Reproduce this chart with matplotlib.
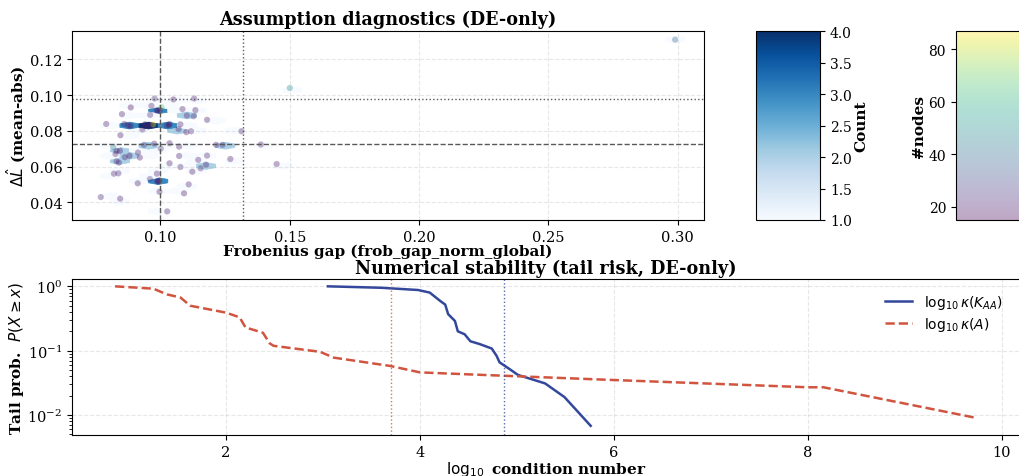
import numpy as np
import matplotlib
matplotlib.use("Agg")
import matplotlib.pyplot as plt

plt.rcParams["font.family"] = "DejaVu Serif"
plt.rcParams["font.size"] = 10

# --- top panel: per-run diagnostics (DE-only) ---
frob_gap = [0.0977, 0.105, 0.113, 0.0885, 0.0965, 0.1085, 0.1135, 0.1128, 0.0851, 0.096,
            0.118, 0.079, 0.086, 0.094, 0.0972, 0.1035, 0.1077, 0.093, 0.107, 0.110,
            0.1118, 0.1313, 0.0845, 0.0936, 0.0976, 0.1035, 0.1072, 0.1001, 0.1215, 0.124,
            0.1388, 0.083, 0.0913, 0.0826, 0.0862, 0.092, 0.1072, 0.118, 0.1146, 0.127,
            0.083, 0.0839, 0.1035, 0.1176, 0.1155, 0.1077, 0.1449, 0.1123, 0.082, 0.0837,
            0.0986, 0.0959, 0.0912, 0.1109, 0.0996, 0.1091, 0.0769, 0.0844, 0.1026, 0.150,
            0.299, 0.0817,
            # repeated runs sitting in the dense cells
            0.0985, 0.0998, 0.0991, 0.1004, 0.0950, 0.0958, 0.0876, 0.0884, 0.1024, 0.1032,
            0.0986, 0.0994, 0.0991, 0.0843, 0.1102, 0.0880]
delta_L = [0.0981, 0.0976, 0.0981, 0.0931, 0.094, 0.0922, 0.0916, 0.0882, 0.0894, 0.089,
           0.0862, 0.0839, 0.0839, 0.0837, 0.0837, 0.0839, 0.0837, 0.0808, 0.081, 0.0793,
           0.0798, 0.0798, 0.0776, 0.0722, 0.0729, 0.0731, 0.0712, 0.0701, 0.0722, 0.0722,
           0.0724, 0.0688, 0.0679, 0.0671, 0.0653, 0.0651, 0.066, 0.0662, 0.0638, 0.0643,
           0.063, 0.0623, 0.0619, 0.0611, 0.0591, 0.0598, 0.0615, 0.0572, 0.0561, 0.0563,
           0.0561, 0.0531, 0.0507, 0.0501, 0.046, 0.0451, 0.043, 0.0421, 0.035, 0.104,
           0.131, 0.071,
           0.0915, 0.0918, 0.0912, 0.0933, 0.0830, 0.0832, 0.0830, 0.0828, 0.0830, 0.0832,
           0.0519, 0.0521, 0.0517, 0.0689, 0.0886, 0.0661]
n_nodes = [22, 18, 20, 17, 20, 19, 18, 21, 19, 22,
           18, 20, 19, 22, 87, 20, 19, 18, 20, 17,
           21, 19, 18, 22, 20, 19, 18, 24, 20, 21,
           19, 18, 20, 22, 19, 18, 21, 20, 19, 18,
           22, 20, 19, 18, 21, 20, 19, 18, 20, 22,
           19, 26, 18, 20, 19, 18, 21, 19, 20, 50,
           38, 45,
           20, 22, 18, 68, 19, 21, 20, 18, 22, 19,
           20, 18, 21, 19, 20, 15]
gap_med, gap_q90 = 0.100, 0.132
dl_med, dl_q90 = 0.0727, 0.0978

# --- bottom panel: tail of log10 condition numbers ---
kaa_x = [3.05, 3.6, 3.98, 4.10, 4.21, 4.26, 4.29, 4.36, 4.39, 4.46, 4.52, 4.62, 4.74,
         4.79, 4.82, 4.93, 5.01, 5.29, 5.49, 5.76]
kaa_p = [1.0, 0.95, 0.877, 0.80, 0.59, 0.52, 0.37, 0.29, 0.20, 0.18, 0.14, 0.126, 0.108,
         0.083, 0.066, 0.051, 0.042, 0.031, 0.019, 0.0068]
a_x = [0.856, 1.25, 1.39, 1.53, 1.63, 2.0, 2.14, 2.20, 2.38, 2.45, 2.49, 2.97, 3.11,
       3.69, 4.0, 4.48, 5.01, 6.0, 8.0, 8.16, 9.74]
a_p = [1.0, 0.92, 0.75, 0.67, 0.50, 0.39, 0.33, 0.23, 0.19, 0.13, 0.119, 0.096, 0.078,
       0.058, 0.046, 0.043, 0.040, 0.035, 0.027, 0.027, 0.009]
kaa_q90 = 4.87
a_q90 = 3.70

c_kaa = "#33489a"
c_a = "#d0543e"

fig = plt.figure(figsize=(10.19, 4.77), dpi=100)
ax1 = fig.add_axes([0.0707, 0.5367, 0.620, 0.396])
cax1 = fig.add_axes([0.742, 0.5367, 0.0628, 0.396])
cax2 = fig.add_axes([0.938, 0.5367, 0.0628, 0.396])
ax2 = fig.add_axes([0.0707, 0.086, 0.930, 0.327])

hb = ax1.hexbin(frob_gap, delta_L, gridsize=30, cmap="Blues", mincnt=1,
                vmin=1, vmax=4, linewidths=0.6, edgecolors="face")
sc = ax1.scatter(frob_gap, delta_L, c=n_nodes, cmap="viridis", s=20, alpha=0.35,
                 edgecolors="none")
ax1.axvline(gap_med, color="0.35", ls="--", lw=1)
ax1.axvline(gap_q90, color="0.35", ls=":", lw=1)
ax1.axhline(dl_med, color="0.35", ls="--", lw=1)
ax1.axhline(dl_q90, color="0.35", ls=":", lw=1)
ax1.grid(True, ls="--", alpha=0.3)
ax1.tick_params(labelsize=10.5)
ax1.set_xlabel("Frobenius gap (frob_gap_norm_global)", fontweight="bold", fontsize=11, labelpad=0)
ax1.set_ylabel(r"$\Delta\hat{L}$ (mean-abs)", fontweight="bold", fontsize=11, labelpad=1)
ax1.set_title("Assumption diagnostics (DE-only)", fontweight="bold", fontsize=12.7, pad=5)

cb1 = fig.colorbar(hb, cax=cax1)
cb1.set_label("Count", fontweight="bold", fontsize=11, labelpad=2)
cb2 = fig.colorbar(sc, cax=cax2)
cax2.yaxis.set_ticks_position("left")
cax2.yaxis.set_label_position("left")
cb2.set_label("#nodes", fontweight="bold", fontsize=11, labelpad=2)

ax2.plot(kaa_x, kaa_p, color=c_kaa, lw=1.8, label=r"$\log_{10}\kappa(K_{AA})$")
ax2.plot(a_x, a_p, color=c_a, lw=1.8, ls="--", label=r"$\log_{10}\kappa(A)$")
ax2.axvline(kaa_q90, color=c_kaa, ls=":", lw=1, alpha=0.8)
ax2.axvline(a_q90, color=c_a, ls=":", lw=1, alpha=0.8)
ax2.set_yscale("log")
ax2.set_ylim(0.0049, 1.3)
ax2.grid(True, ls="--", alpha=0.3)
ax2.tick_params(labelsize=10.5)
ax2.set_xlabel(r"$\log_{10}$ condition number", fontweight="bold", fontsize=11, labelpad=0)
ax2.set_ylabel(r"Tail prob.  $P(X \geq x)$", fontweight="bold", fontsize=11, labelpad=1)
ax2.set_title("Numerical stability (tail risk, DE-only)", fontweight="bold", fontsize=12.7, pad=4)
ax2.legend(loc="upper right", frameon=False, fontsize=10, labelspacing=0.3,
           bbox_to_anchor=(0.995, 0.99))

fig.savefig("out.png", dpi=100)
